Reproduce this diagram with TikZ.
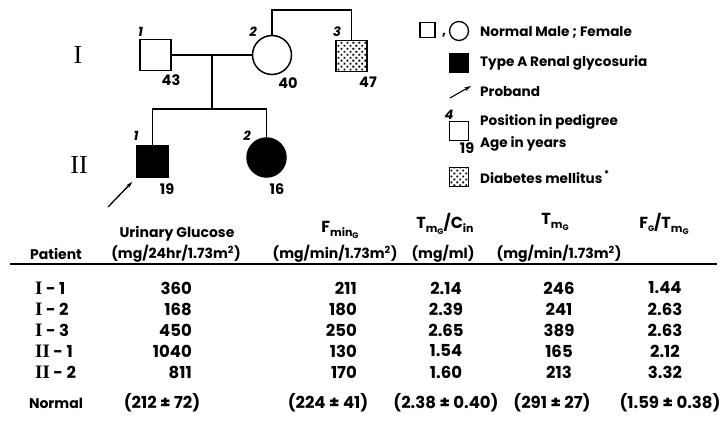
\documentclass[tikz,border=0pt]{standalone}
\usepackage{fontspec}
\setmainfont{Poppins}[Numbers=Monospaced]
\newfontfamily\romfont{Liberation Serif}
\usetikzlibrary{arrows.meta,patterns.meta}

\newcommand{\gennum}[1]{{\romfont\fontsize{19}{19}\selectfont #1}}
\newcommand{\subA}[1]{\raisebox{-0.25em}{\fontsize{11}{11}\selectfont #1}}
\newcommand{\subB}[1]{\raisebox{-0.2em}{\fontsize{8}{8}\selectfont #1}}

\tikzdeclarepattern{
  name=diabdots,
  type=uncolored,
  bottom left={(-1.5pt,-1.5pt)},
  top right={(1.5pt,1.5pt)},
  tile size={(4.2pt,4.2pt)},
  tile transformation={rotate=45},
  code={\fill (0pt,0pt) circle (1.3pt);}
}

\begin{document}
\begin{tikzpicture}[x=1pt, y=-1pt,
        ind/.style={draw, line width=1.5pt, inner sep=0pt, outer sep=0pt},
        male/.style={ind, rectangle, minimum size=31pt},
        female/.style={ind, circle, minimum size=39pt},
        affected/.style={fill=black},
        diabetic/.style={pattern=diabdots},
        num/.style={font=\fontsize{13}{13}\selectfont\bfseries\itshape, inner sep=1pt},
        age/.style={font=\fontsize{14.5}{14.5}\selectfont\bfseries, inner sep=1pt},
        gen/.style={font=\fontsize{26}{26}\selectfont\romfont, inner sep=0pt},
        link/.style={line width=1.6pt},
        proband/.style={line width=1.3pt, -{Stealth[length=7pt, width=4pt]}},
        key/.style={font=\fontsize{13.6}{14}\selectfont\bfseries, anchor=west, inner sep=0pt},
        head/.style={font=\fontsize{14}{15}\selectfont\bfseries, inner sep=0pt},
        hsym/.style={font=\fontsize{16}{16}\selectfont\bfseries, inner sep=0pt},
        cell/.style={font=\fontsize{16.5}{16.5}\selectfont\bfseries, inner sep=0pt}
    ]
    \useasboundingbox (0,0) rectangle (722,420);

    % pedigree
    \node[gen] (genI) at (78,55) {I};
    \node[gen] (genII) at (79,165) {II};

    \node[male, label={[num, xshift=-15pt, yshift=2pt]above:1}, label={[age, xshift=15.5pt, yshift=-3pt]below:43}] (i1) at (155.5,55) {};
    \node[female, label={[num, xshift=-19pt, yshift=-2pt]above:2}, label={[age, xshift=16pt, yshift=-2pt]below:40}] (i2) at (272,55) {};
    \node[male, diabetic, label={[num, xshift=-14.5pt, yshift=3pt]above:3}, label={[age, xshift=16.5pt, yshift=-4pt]below:47}] (i3) at (351.5,56) {};
    \node[male, affected, minimum size=32pt, label={[num, xshift=-16.5pt, yshift=4pt]above:1}, label={[age, xshift=14.5pt, yshift=-5pt]below:19}] (ii1) at (152.5,161.5) {};
    \node[female, affected, label={[num, xshift=-19.5pt, yshift=-3.5pt]above:2}, label={[age, xshift=10.5pt, yshift=-5.5pt]below:16}] (ii2) at (266.5,157.5) {};

    \coordinate (mate) at (212,55);
    \coordinate (sibs) at (212,109);
    \coordinate (topI) at (312,10);
    \coordinate (pb) at (108,207);

    \draw[link] (i1) -- (i2);
    \draw[link] (mate) -- (sibs);
    \draw[link] (ii1) |- (sibs) -| (ii2);
    \draw[link] (i2) |- (topI) -| (i3);
    \draw[proband, shorten >=6pt] (pb) -- (ii1.south west);

    % key
    \node[male, line width=1.3pt, minimum size=15pt] (keym) at (427.5,30) {};
    \node[key, anchor=center] (keyc) at (444,35) {,};
    \node[female, line width=1.3pt, minimum size=19pt] (keyf) at (459,31) {};
    \node[key] (keytm) at (480,32) {Normal Male ; Female};
    \node[male, affected, minimum size=19pt] (keya) at (459,63) {};
    \node[key] (keyta) at (480,63) {Type A Renal glycosuria};
    \coordinate (keyp0) at (450,98);
    \coordinate (keyp1) at (471,86);
    \draw[proband, line width=1.1pt] (keyp0) -- (keyp1);
    \node[key] (keytp) at (480,92) {Proband};
    \node[male, line width=1.3pt, minimum size=19pt, label={[num, xshift=-10pt, yshift=1pt]above:4}, label={[age, xshift=8pt, yshift=-1pt]below:19}] (keyn) at (459,131) {};
    \node[key] (keytn) at (480,122) {Position in pedigree};
    \node[key] (keytg) at (480,144) {Age in years};
    \node[male, diabetic, line width=1.3pt, minimum size=19pt] (keyd) at (459,177) {};
    \node[key] (keytd) at (480,177) {Diabetes mellitus\textsuperscript{\,*}};

    % table head
    \node[head] (hpat) at (56,254) {Patient};
    \node[head] (hurin) at (177,234) {Urinary Glucose};
    \node[head] (hurinu) at (176,254) {(mg/24hr/1.73m\textsuperscript{2})};
    \node[hsym] (hfmin) at (340,230) {F\subA{min\subB{G}}};
    \node[head] (hfminu) at (335,254) {(mg/min/1.73m\textsuperscript{2})};
    \node[hsym] (htc) at (445,224) {T\subA{m\subB{G}}/C\subA{in}};
    \node[head] (htcu) at (443,254) {(mg/ml)};
    \node[hsym] (htm) at (555,222) {T\subA{m\subB{G}}};
    \node[head] (htmu) at (559,254) {(mg/min/1.73m\textsuperscript{2})};
    \node[hsym] (hft) at (664,224) {F\subB{G}/T\subA{m\subB{G}}};

    \coordinate (rulel) at (10,264);
    \coordinate (ruler) at (717,264);
    \draw[line width=1.8pt] (rulel) -- (ruler);

    % table rows
    \node[cell, anchor=west] (p1) at (35,288) {\gennum{I} - 1};
    \node[cell, anchor=east] (u1) at (192,288) {360};
    \node[cell, anchor=east] (f1) at (357,288) {211};
    \node[cell] (c1) at (446,288) {2.14};
    \node[cell] (t1) at (559,288) {246};
    \node[cell] (r1) at (665,288) {1.44};

    \node[cell, anchor=west] (p2) at (35,309) {\gennum{I} - 2};
    \node[cell, anchor=east] (u2) at (192,309) {168};
    \node[cell, anchor=east] (f2) at (357,309) {180};
    \node[cell] (c2) at (446,309) {2.39};
    \node[cell] (t2) at (559,309) {241};
    \node[cell] (r2) at (665,309) {2.63};

    \node[cell, anchor=west] (p3) at (35,330) {\gennum{I} - 3};
    \node[cell, anchor=east] (u3) at (192,330) {450};
    \node[cell, anchor=east] (f3) at (357,330) {250};
    \node[cell] (c3) at (446,330) {2.65};
    \node[cell] (t3) at (559,330) {389};
    \node[cell] (r3) at (665,330) {2.63};

    \node[cell, anchor=west] (p4) at (35,351) {\gennum{II} - 1};
    \node[cell, anchor=east] (u4) at (192,351) {1040};
    \node[cell, anchor=east] (f4) at (357,351) {130};
    \node[cell] (c4) at (446,351) {1.54};
    \node[cell] (t4) at (559,351) {165};
    \node[cell] (r4) at (665,351) {2.12};

    \node[cell, anchor=west] (p5) at (35,372) {\gennum{II} - 2};
    \node[cell, anchor=east] (u5) at (192,372) {811};
    \node[cell, anchor=east] (f5) at (357,372) {170};
    \node[cell] (c5) at (446,372) {1.60};
    \node[cell] (t5) at (559,372) {213};
    \node[cell] (r5) at (665,372) {3.32};

    \node[head] (pn) at (56,403) {Normal};
    \node[cell] (un) at (162,403) {(212 ± 72)};
    \node[cell] (fn) at (328,403) {(224 ± 41)};
    \node[cell] (cn) at (446,403) {(2.38 ± 0.40)};
    \node[cell] (tn) at (552,403) {(291 ± 27)};
    \node[cell] (rn) at (670,403) {(1.59 ± 0.38)};

\end{tikzpicture}
\end{document}
